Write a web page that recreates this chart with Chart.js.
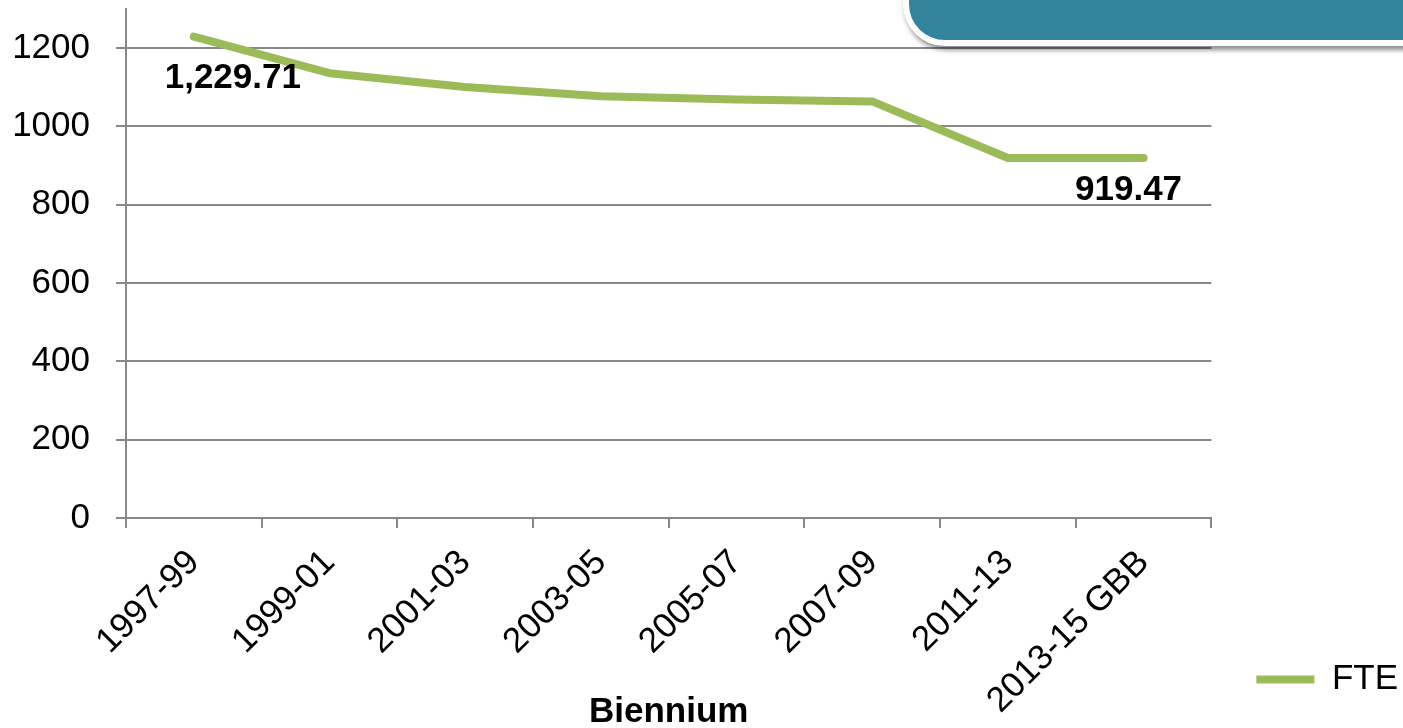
<!DOCTYPE html>
<html>
<head>
<meta charset="utf-8">
<script src="https://cdn.jsdelivr.net/npm/chart.js@4"></script>
<style>
  html, body { margin: 0; padding: 0; background: #fff; overflow: hidden; }
  .wrap { position: relative; width: 1403px; height: 728px; }
  #grafico { display: block; }
  .faixa {
    position: absolute; left: 903px; top: -80px; width: 560px; height: 114px;
    background: #32849C; border: 6px solid #fff; border-radius: 0 0 0 42px;
    box-shadow: 2px 4px 5px rgba(0,0,0,0.45);
  }
</style>
</head>
<body>
<div class="wrap">
  <canvas id="grafico" width="1403" height="728"></canvas>
  <div class="faixa"></div>
</div>
<script>
  var bienios = ['1997-99', '1999-01', '2001-03', '2003-05', '2005-07', '2007-09', '2011-13', '2013-15 GBB'];
  var fte = [1229.71, 1136, 1101, 1077, 1069, 1064, 919.47, 919.47];
  var ticksY = [0, 200, 400, 600, 800, 1000, 1200];
  var rotulosValor = { 0: '1,229.71', 7: '919.47' };
  var deslocRotulo = { 0: [39, 42], 7: [-15, 32] };

  var cinza = '#888888';
  var fonte = '"Liberation Sans", Arial, sans-serif';

  // escreve o valor em negrito ao lado do primeiro e do último ponto
  var pluginRotulos = {
    id: 'rotulos',
    afterDatasetsDraw: function (chart) {
      var ctx = chart.ctx;
      var meta = chart.getDatasetMeta(0);
      ctx.save();
      ctx.font = 'bold 35px ' + fonte;
      ctx.fillStyle = '#000';
      ctx.textAlign = 'center';
      ctx.textBaseline = 'middle';
      Object.keys(rotulosValor).forEach(function (i) {
        var p = meta.data[i];
        var d = deslocRotulo[i];
        ctx.fillText(rotulosValor[i], p.x + d[0], p.y + d[1]);
      });
      ctx.restore();
    }
  };

  new Chart(document.getElementById('grafico'), {
    type: 'line',
    data: {
      labels: bienios,
      datasets: [{
        label: 'FTE',
        data: fte,
        borderColor: '#9BBB59',
        backgroundColor: '#9BBB59',
        borderWidth: 8,
        borderCapStyle: 'round',
        borderJoinStyle: 'round',
        pointRadius: 0,
        pointStyle: 'line',
        tension: 0,
        fill: false
      }]
    },
    options: {
      responsive: false,
      animation: false,
      // margens negativas empurram a legenda para o canto inferior direito
      layout: { padding: { top: 9, left: 0, right: -5, bottom: -14 } },
      plugins: {
        tooltip: { enabled: false },
        legend: {
          position: 'right',
          align: 'end',
          labels: {
            usePointStyle: true,
            pointStyleWidth: 58,
            color: '#000',
            padding: 45,
            font: { family: fonte, size: 35 }
          }
        }
      },
      scales: {
        x: {
          offset: true,
          afterFit: function (scale) { scale.height = 224; },
          grid: { offset: true, drawOnChartArea: false, drawTicks: true, tickLength: 10, color: cinza, lineWidth: 2 },
          border: { color: cinza, width: 2 },
          ticks: {
            color: '#000', maxRotation: 45, minRotation: 45, padding: 14, autoSkip: false,
            font: { family: fonte, size: 35 }
          },
          title: {
            display: true, text: 'Biennium', color: '#000', padding: { top: 0, bottom: 9 },
            font: { family: fonte, size: 35, weight: 'bold' }
          }
        },
        y: {
          min: 0,
          max: 1300,
          afterBuildTicks: function (scale) {
            scale.ticks = ticksY.map(function (v) { return { value: v }; });
          },
          afterFit: function (scale) {
            scale.width = 126;
            scale.paddingTop = 0;
            scale.paddingBottom = 0;
          },
          grid: { color: cinza, lineWidth: 2, tickLength: 10 },
          border: { color: cinza, width: 2 },
          ticks: {
            color: '#000', padding: 26,
            callback: function (v) { return String(v); },
            font: { family: fonte, size: 35 }
          }
        }
      }
    },
    plugins: [pluginRotulos]
  });
</script>
</body>
</html>
